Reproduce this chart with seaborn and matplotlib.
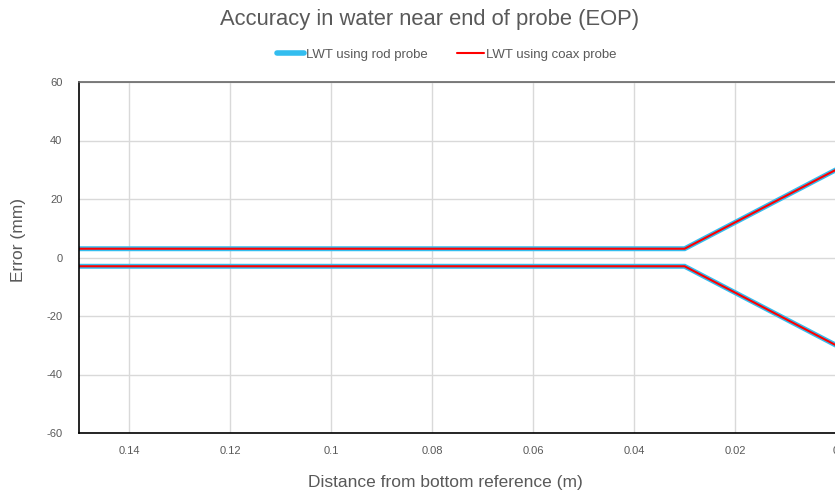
import matplotlib
matplotlib.use("Agg")
import matplotlib.pyplot as plt
import seaborn as sns
import pandas as pd
from matplotlib.lines import Line2D

sns.set_theme(style="white")
plt.rcParams['font.family'] = ['Liberation Sans', 'DejaVu Sans']
plt.rcParams['axes.unicode_minus'] = False

distance = [0.15, 0.03, 0.0]
rod_upper = [3, 3, 30]
rod_lower = [-3, -3, -30]
coax_upper = [3, 3, 30]
coax_lower = [-3, -3, -30]
series_names = ["LWT using rod probe", "LWT using coax probe"]
x_ticks = [0.14, 0.12, 0.1, 0.08, 0.06, 0.04, 0.02, 0]
x_tick_labels = ["0.14", "0.12", "0.1", "0.08", "0.06", "0.04", "0.02", "0"]
y_ticks = [60, 40, 20, 0, -20, -40, -60]
y_tick_labels = ["60", "40", "20", "0", "-20", "-40", "-60"]

rows = []
for name, up, lo in [(series_names[0], rod_upper, rod_lower),
                     (series_names[1], coax_upper, coax_lower)]:
    for i, (x, y) in enumerate(zip(distance, up)):
        rows.append(dict(series=name, branch="upper", order=i, x=x, y=y))
    for i, (x, y) in enumerate(zip(distance, lo)):
        rows.append(dict(series=name, branch="lower", order=i, x=x, y=y))
df = pd.DataFrame(rows)

fig = plt.figure(figsize=(8.35, 4.96), dpi=100)
ax = fig.add_axes([79/835, 1 - 433/496, (836 - 79)/835, (433 - 82)/496])

rod_color = "#33BDEF"
coax_color = "#FF0000"
styles = {series_names[0]: dict(color=rod_color, lw=3.6),
          series_names[1]: dict(color=coax_color, lw=1.5)}
for name in series_names:
    for br in ["upper", "lower"]:
        d = df[(df.series == name) & (df.branch == br)].sort_values("order")
        sns.lineplot(data=d, x="x", y="y", sort=False, ax=ax,
                     color=styles[name]["color"], linewidth=styles[name]["lw"],
                     legend=False, solid_joinstyle="miter")

ax.set_xlim(0.15, 0.0)
ax.set_ylim(-60, 60)
ax.set_xticks(x_ticks)
ax.set_xticklabels(x_tick_labels)
ax.set_yticks(y_ticks)
ax.set_yticklabels(y_tick_labels)
ax.grid(True, color="#D9D9D9", linewidth=1)
ax.tick_params(axis="both", length=0, labelsize=8, colors="#595959")
ax.tick_params(axis="x", pad=9)
ax.tick_params(axis="y", pad=12)

for s in ["left", "bottom"]:
    ax.spines[s].set_color("black")
    ax.spines[s].set_linewidth(1.2)
ax.spines["top"].set_color("#666666")
ax.spines["top"].set_linewidth(1.2)
ax.spines["right"].set_visible(False)

ax.set_xlabel("Distance from bottom reference (m)", fontsize=12.5, color="#595959")
ax.set_ylabel("Error (mm)", fontsize=12.5, color="#595959")
ax.xaxis.set_label_coords((445 - 79) / (836 - 79), -(483 - 433) / (433 - 82))
ax.xaxis.label.set_va("center")
ax.yaxis.set_label_coords(-(79 - 19) / (836 - 79), (433 - 240) / (433 - 82))
ax.yaxis.label.set_va("center")

fig.text(430/835, 1 - 20/496, "Accuracy in water near end of probe (EOP)",
         ha="center", va="center", fontsize=15.8, color="#595959")

handles = [Line2D([], [], color=rod_color, lw=4),
           Line2D([], [], color=coax_color, lw=1.5)]
fig.legend(handles, series_names, loc="center", bbox_to_anchor=(447/835, 1 - 55/496),
           ncol=2, frameon=False, fontsize=9.5, handlelength=2.0, handletextpad=0.2,
           columnspacing=2.2, labelcolor="#595959")

fig.savefig("out.png", dpi=100)
